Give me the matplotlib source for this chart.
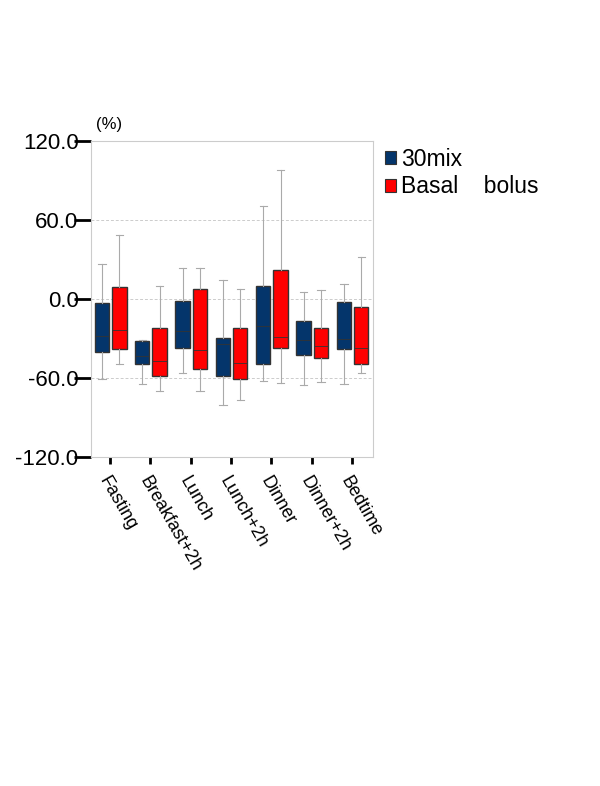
import matplotlib
matplotlib.use("Agg")
import matplotlib.pyplot as plt
from matplotlib.patches import Patch

plt.rcParams['font.family'] = ['Liberation Sans', 'DejaVu Sans']

categories = ['Fasting', 'Breakfast+2h', 'Lunch', 'Lunch+2h', 'Dinner', 'Dinner+2h', 'Bedtime']
series = ['30mix', 'Basal    bolus']

# whisker low, Q1, median, Q3, whisker high (%)
mix_low = [-60.7, -64.7, -56.4, -80.7, -62.4, -65.5, -64.7]
mix_q1 = [-40.6, -49.8, -37.3, -58.9, -49.8, -42.9, -38.1]
mix_med = [-27.9, -43.2, -24.7, -34.0, -20.3, -31.2, -30.2]
mix_q3 = [-3.0, -32.3, -1.3, -29.7, 10.1, -16.5, -2.3]
mix_high = [26.6, -31.5, 23.6, 14.5, 71.0, 5.3, 11.1]

bb_low = [-49.8, -70.1, -70.1, -76.7, -64.0, -63.5, -56.6]
bb_q1 = [-38.1, -58.9, -53.1, -60.7, -37.3, -44.7, -49.8]
bb_med = [-23.6, -47.5, -38.8, -48.7, -28.7, -35.8, -37.1]
bb_q3 = [9.4, -22.1, 7.6, -22.1, 22.1, -22.1, -6.4]
bb_high = [49.0, 9.9, 23.6, 7.6, 98.2, 6.8, 32.0]

colors = ['#04356b', '#ff0000']


def make_stats(low, q1, med, q3, high):
    return [dict(whislo=a, q1=b, med=c, q3=d, whishi=e, fliers=[])
            for a, b, c, d, e in zip(low, q1, med, q3, high)]


fig = plt.figure(figsize=(6, 7.86), dpi=100)
ax = fig.add_axes([0.1517, 0.419, 0.4705, 0.4012])

groups = [make_stats(mix_low, mix_q1, mix_med, mix_q3, mix_high),
          make_stats(bb_low, bb_q1, bb_med, bb_q3, bb_high)]
offsets = [-0.2, 0.23]
for stats, off, col in zip(groups, offsets, colors):
    ax.bxp(stats, positions=[i + off for i in range(len(categories))],
           widths=0.36, patch_artist=True, showfliers=False,
           boxprops=dict(facecolor=col, edgecolor='#333333', linewidth=1.0),
           medianprops=dict(color='#333333', linewidth=0.6),
           whiskerprops=dict(color='#aaaaaa', linewidth=0.8),
           capprops=dict(color='#aaaaaa', linewidth=0.8),
           manage_ticks=False, zorder=3)

ax.set_xlim(-0.47, 6.53)
ax.set_ylim(-120, 120)
ax.set_yticks([120, 60, 0, -60, -120])
ax.set_yticklabels(['120.0', '60.0', '0.0', '-60.0', '-120.0'], fontsize=16)
ax.set_xticks(range(len(categories)))
ax.set_xticklabels(categories, fontsize=13, rotation=-60, ha='left', va='top',
                   rotation_mode='anchor')
ax.tick_params(axis='y', length=12, width=2, pad=-3, color='black', direction='out')
ax.tick_params(axis='x', length=5, width=2, pad=7, color='black')

for s in ax.spines.values():
    s.set_color('#cccccc')
    s.set_linewidth(0.8)

for v in [120, 60, 0, -60]:
    ax.axhline(v, color='#cccccc', linewidth=0.7, linestyle=(0, (3, 2)), zorder=1)

fig.text(0.16, 0.836, '(%)', fontsize=12)

handles = [Patch(facecolor=c, edgecolor='#333333', linewidth=0.8) for c in colors]
fig.legend(handles, series, loc='upper left', bbox_to_anchor=(0.641, 0.812),
           frameon=False, fontsize=16.5, handlelength=0.48, handleheight=0.48,
           handletextpad=0.25, labelspacing=0.2, borderaxespad=0, borderpad=0)

fig.savefig('out.png', dpi=100)
